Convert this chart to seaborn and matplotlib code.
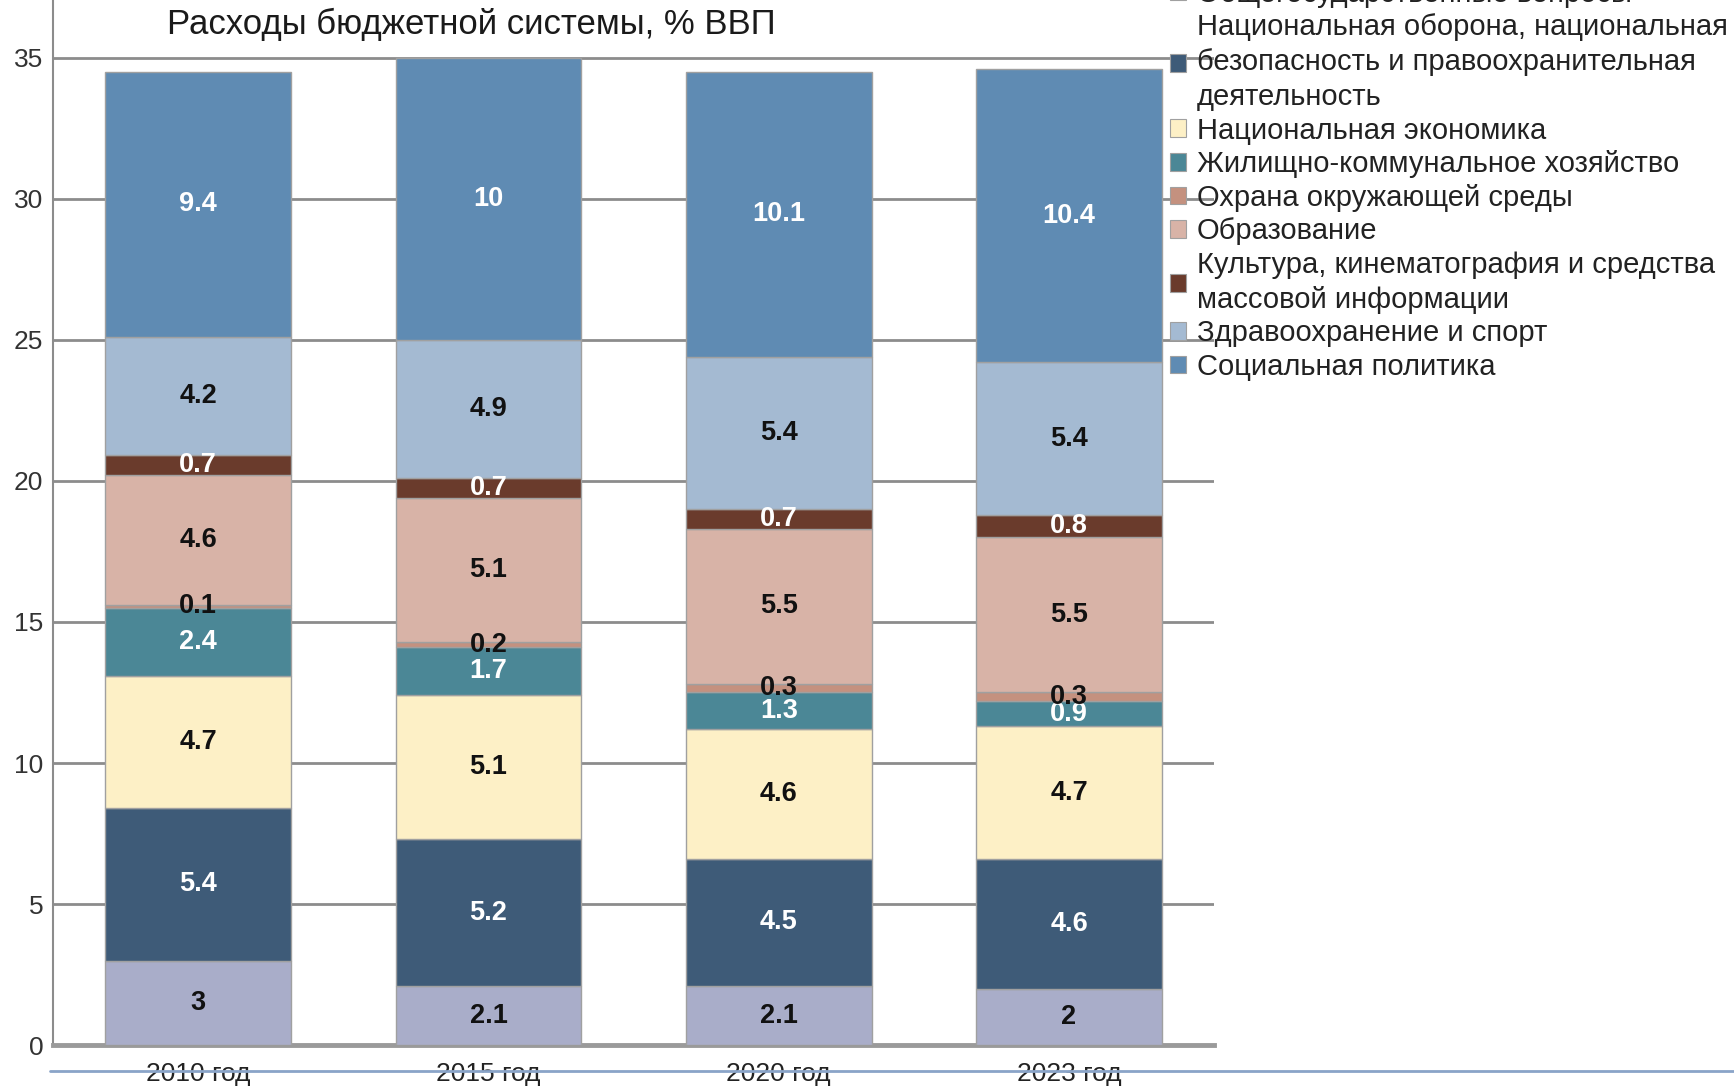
import matplotlib
matplotlib.use("Agg")
import matplotlib.pyplot as plt
from matplotlib.patches import Patch
from matplotlib.lines import Line2D
import seaborn as sns
import pandas as pd
import numpy as np

years = ["2010 год", "2015 год", "2020 год", "2023 год"]
categories = [
    "Общегосударственные вопросы",
    "Национальная оборона, национальная\nбезопасность и правоохранительная\nдеятельность",
    "Национальная экономика",
    "Жилищно-коммунальное хозяйство",
    "Охрана окружающей среды",
    "Образование",
    "Культура, кинематография и средства\nмассовой информации",
    "Здравоохранение и спорт",
    "Социальная политика",
]
general = [3, 2.1, 2.1, 2]
defense = [5.4, 5.2, 4.5, 4.6]
economy = [4.7, 5.1, 4.6, 4.7]
housing = [2.4, 1.7, 1.3, 0.9]
environment = [0.1, 0.2, 0.3, 0.3]
education = [4.6, 5.1, 5.5, 5.5]
culture = [0.7, 0.7, 0.7, 0.8]
health = [4.2, 4.9, 5.4, 5.4]
social = [9.4, 10, 10.1, 10.4]
series = [general, defense, economy, housing, environment, education, culture, health, social]

colors = ["#a9adc9", "#3e5b78", "#fdf0c6", "#4b8796", "#c4917f",
          "#d8b3a7", "#6a3b2c", "#a4bad2", "#5f8bb3"]
label_colors = ["#111111", "white", "#111111", "white", "#111111",
                "#111111", "white", "#111111", "white"]
title = "Расходы бюджетной системы, % ВВП"

sns.set_theme(style="white")
plt.rcParams["font.family"] = ["Liberation Sans", "DejaVu Sans"]

fig = plt.figure(figsize=(17.34, 10.89), dpi=100)
ax = fig.add_axes([0.0306, 0.0402, 0.6696, 0.9598])

bottom = np.zeros(len(years))
for cat, vals, col, lc in zip(categories, series, colors, label_colors):
    df = pd.DataFrame({"year": years, "value": vals})
    sns.barplot(data=df, x="year", y="value", order=years, color=col,
                saturation=1, width=0.64, bottom=bottom, errorbar=None,
                edgecolor="#a0a0a0", linewidth=1, ax=ax, zorder=3)
    cont = ax.containers[-1]
    ax.bar_label(cont, labels=[f"{v:g}" for v in vals], label_type="center",
                 color=lc, fontsize=19.5, fontweight="bold", zorder=5)
    bottom = bottom + np.array(vals)

ax.set_xlim(-0.5, 3.5)
ax.set_ylim(0, 37.04)
ax.set_yticks(np.arange(0, 36, 5))
ax.set_xlabel("")
ax.set_ylabel("")
ax.yaxis.grid(True, color="#8c8c8c", linewidth=2, zorder=0)
ax.set_axisbelow(True)
for s in ["top", "right"]:
    ax.spines[s].set_visible(False)
ax.spines["left"].set_color("#8c8c8c")
ax.spines["left"].set_linewidth(1.5)
ax.spines["bottom"].set_color("#9a9a9a")
ax.spines["bottom"].set_linewidth(3.5)
ax.tick_params(axis="y", length=0, pad=7, labelsize=19, labelcolor="#333333")
ax.tick_params(axis="x", length=0, pad=12, labelsize=19, labelcolor="#222222")

fig.text(0.2716, 0.978, title, ha="center", va="center", fontsize=25, color="#1a1a1a")

handles = [Patch(facecolor=c, edgecolor="#a0a0a0", linewidth=0.8) for c in colors]
leg = fig.legend(handles, categories, loc="upper left", bbox_to_anchor=(0.675, 1.0185),
                 frameon=False, fontsize=21, labelspacing=0.19, handlelength=0.55,
                 handleheight=0.55, handletextpad=0.35, borderpad=0, borderaxespad=0,
                 labelcolor="#222222")
for t in leg.get_texts():
    t.set_linespacing(1.31)

fig.add_artist(Line2D([0.029, 1.0], [0.0165, 0.0165], transform=fig.transFigure,
                      color="#8aa4c8", linewidth=2, zorder=10))

fig.savefig("out.png", dpi=100)
